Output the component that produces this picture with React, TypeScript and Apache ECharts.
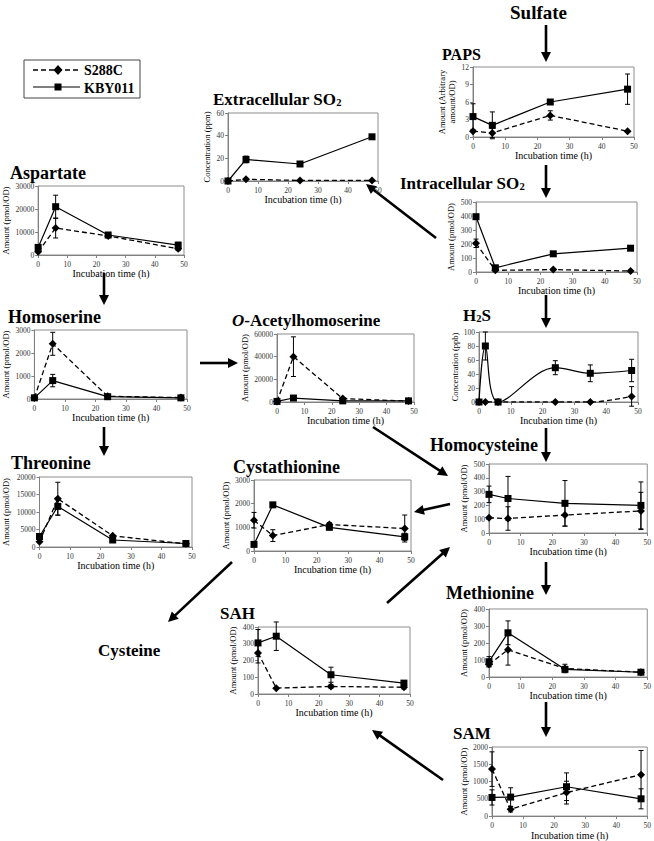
import React, { useEffect, useRef } from 'react';
import * as echarts from 'echarts';

// ---------- data ----------
const t4 = [0, 6, 24, 48];
const tH2S = [0, 2, 6, 24, 35, 48];

const papsK = [3.5, 2.0, 6.0, 8.2];
const papsKErr = [2.2, 2.3, 0, 2.6];
const papsS = [1.0, 0.7, 3.7, 1.0];
const papsSErr = [0, 0.8, 0.8, 0];

const exSO2K = [0, 19, 15, 39];
const exSO2KErr = [0, 3, 2, 1];
const exSO2S = [0, 1.5, 0.5, 0.5];
const exSO2SErr = [0, 0, 0, 0];

const aspK = [3300, 21000, 8700, 4300];
const aspKErr = [500, 5000, 800, 1200];
const aspS = [1400, 11700, 8300, 2700];
const aspSErr = [300, 4300, 800, 800];

const inSO2K = [395, 30, 130, 170];
const inSO2KErr = [0, 0, 12, 8];
const inSO2S = [205, 12, 17, 7];
const inSO2SErr = [30, 5, 5, 3];

const h2sK = [0, 80, 0, 49, 41, 45];
const h2sKErr = [0, 20, 0, 10, 12, 16];
const h2sS = [0, 0, 0, 0, 0, 8];
const h2sSErr = [0, 0, 0, 0, 0, 14];

const hserK = [50, 800, 100, 50];
const hserKErr = [0, 270, 0, 0];
const hserS = [50, 2400, 120, 60];
const hserSErr = [0, 500, 0, 0];

const oahK = [500, 3500, 1000, 1000];
const oahKErr = [0, 0, 0, 0];
const oahS = [500, 40000, 3000, 800];
const oahSErr = [0, 17500, 0, 0];

const hcysK = [280, 250, 215, 200];
const hcysKErr = [60, 160, 165, 170];
const hcysS = [110, 105, 130, 160];
const hcysSErr = [0, 85, 80, 135];

const thrK = [3000, 11600, 2000, 1000];
const thrKErr = [0, 2500, 0, 0];
const thrS = [1500, 13800, 3200, 900];
const thrSErr = [0, 4700, 0, 0];

const cystK = [280, 1950, 1000, 600];
const cystKErr = [100, 50, 50, 150];
const cystS = [1300, 650, 1120, 950];
const cystSErr = [330, 250, 80, 570];

const metK = [90, 260, 45, 28];
const metKErr = [30, 70, 10, 5];
const metS = [75, 160, 50, 28];
const metSErr = [15, 90, 25, 5];

const samK = [540, 550, 850, 500];
const samKErr = [220, 270, 400, 290];
const samS = [1360, 200, 680, 1200];
const samSErr = [500, 80, 330, 700];

const sahK = [305, 345, 115, 65];
const sahKErr = [80, 85, 45, 10];
const sahS = [245, 35, 45, 40];
const sahSErr = [60, 0, 10, 10];

const FONT = "'Liberation Serif', 'Times New Roman', serif";

type Panel = {
  box: [number, number, number, number];
  t: number[];
  k: number[]; kErr: number[];
  s: number[]; sErr: number[];
  yMax: number; yInt: number;
  yName: string; nameGap: number;
  smooth?: boolean;
};

const panels: Panel[] = [
  { box: [473, 67, 161, 70], t: t4, k: papsK, kErr: papsKErr, s: papsS, sErr: papsSErr, yMax: 12, yInt: 3, yName: 'Amount (Arbitrary\namount/OD)', nameGap: 13 },
  { box: [228, 113, 150, 68], t: t4, k: exSO2K, kErr: exSO2KErr, s: exSO2S, sErr: exSO2SErr, yMax: 60, yInt: 20, yName: 'Concentration (ppm)', nameGap: 13 },
  { box: [33, 186, 151, 69], t: t4, k: aspK, kErr: aspKErr, s: aspS, sErr: aspSErr, yMax: 30000, yInt: 10000, yName: 'Amount (pmol/OD)', nameGap: 21 },
  { box: [476, 202, 161, 70], t: t4, k: inSO2K, kErr: inSO2KErr, s: inSO2S, sErr: inSO2SErr, yMax: 500, yInt: 100, yName: 'Amount (pmol/OD)', nameGap: 20 },
  { box: [479, 332, 159, 70], t: tH2S, k: h2sK, kErr: h2sKErr, s: h2sS, sErr: h2sSErr, yMax: 100, yInt: 20, yName: 'Concentration (ppb)', nameGap: 17, smooth: true },
  { box: [32, 330, 155, 69], t: t4, k: hserK, kErr: hserKErr, s: hserS, sErr: hserSErr, yMax: 3000, yInt: 1000, yName: 'Amount (pmol/OD)', nameGap: 22 },
  { box: [277, 334, 137, 68], t: t4, k: oahK, kErr: oahKErr, s: oahS, sErr: oahSErr, yMax: 60000, yInt: 20000, yName: 'Amount (pmol/OD)', nameGap: 26 },
  { box: [489, 464, 159, 69], t: t4, k: hcysK, kErr: hcysKErr, s: hcysS, sErr: hcysSErr, yMax: 500, yInt: 100, yName: 'Amount (pmol/OD)', nameGap: 20 },
  { box: [39, 477, 153, 70], t: t4, k: thrK, kErr: thrKErr, s: thrS, sErr: thrSErr, yMax: 20000, yInt: 5000, yName: 'Amount (pmol/OD)', nameGap: 28 },
  { box: [254, 480, 157, 71], t: t4, k: cystK, kErr: cystKErr, s: cystS, sErr: cystSErr, yMax: 3000, yInt: 1000, yName: 'Amount (pmol/OD)', nameGap: 23 },
  { box: [489, 609, 159, 68], t: t4, k: metK, kErr: metKErr, s: metS, sErr: metSErr, yMax: 400, yInt: 100, yName: 'Amount (pmol/OD)', nameGap: 20 },
  { box: [492, 747, 158, 71], t: t4, k: samK, kErr: samKErr, s: samS, sErr: samSErr, yMax: 2000, yInt: 500, yName: 'Amount (pmol/OD)', nameGap: 20 },
  { box: [258, 627, 152, 67], t: t4, k: sahK, kErr: sahKErr, s: sahS, sErr: sahSErr, yMax: 400, yInt: 100, yName: 'Amount (pmol/OD)', nameGap: 20 },
];

const errRender = (params: any, api: any) => {
  const x = api.value(0);
  const lo = api.value(1);
  const hi = api.value(2);
  if (hi === lo) return { type: 'group', children: [] };
  const p1 = api.coord([x, hi]);
  const p2 = api.coord([x, lo]);
  const w = 2.5;
  const st = { stroke: '#000', lineWidth: 1 };
  return {
    type: 'group',
    children: [
      { type: 'line', shape: { x1: p1[0], y1: p1[1], x2: p2[0], y2: p2[1] }, style: st },
      { type: 'line', shape: { x1: p1[0] - w, y1: p1[1], x2: p1[0] + w, y2: p1[1] }, style: st },
      { type: 'line', shape: { x1: p2[0] - w, y1: p2[1], x2: p2[0] + w, y2: p2[1] }, style: st },
    ],
  };
};

function arrow(x1: number, y1: number, x2: number, y2: number) {
  const dx = x2 - x1, dy = y2 - y1;
  const L = Math.sqrt(dx * dx + dy * dy);
  const ux = dx / L, uy = dy / L;
  const hl = 10, hw = 5;
  const bx = x2 - ux * hl, by = y2 - uy * hl;
  const px = -uy, py = ux;
  return [
    { type: 'line', shape: { x1, y1, x2: bx + ux * 1, y2: by + uy * 1 }, style: { stroke: '#000', lineWidth: 2.6 } },
    { type: 'polygon', shape: { points: [[x2, y2], [bx + px * hw, by + py * hw], [bx - px * hw, by - py * hw]] }, style: { fill: '#000' } },
  ];
}

function title(x: number, y: number, text: string, size: number, rich?: any) {
  return {
    type: 'text', x, y,
    style: {
      text, fontFamily: FONT, fontWeight: 'bold', fontSize: size, fill: '#000',
      verticalAlign: 'middle', align: 'left', rich,
    },
  };
}

export default function App() {
  const ref = useRef<HTMLDivElement>(null);
  useEffect(() => {
    document.body.style.margin = '0';
    const chart = echarts.init(ref.current!, undefined, { renderer: 'svg' });
    const grid: any[] = [], xAxis: any[] = [], yAxis: any[] = [], series: any[] = [];
    panels.forEach((p, i) => {
      grid.push({ left: p.box[0], top: p.box[1], width: p.box[2], height: p.box[3], show: true, borderColor: '#8c8c8c', borderWidth: 1, backgroundColor: 'transparent' });
      xAxis.push({
        type: 'value', gridIndex: i, min: 0, max: 50, interval: 10,
        axisLine: { show: true, onZero: false, lineStyle: { color: '#808080', width: 1 } },
        axisTick: { show: true, length: 3, lineStyle: { color: '#808080' } },
        axisLabel: { fontSize: 7.5, fontFamily: FONT, color: '#333', margin: 5, formatter: (v: number) => String(v) },
        splitLine: { show: false },
        name: 'Incubation time (h)', nameLocation: 'middle', nameGap: 13,
        nameTextStyle: { fontSize: 10, fontFamily: FONT, color: '#000' },
      });
      yAxis.push({
        type: 'value', gridIndex: i, min: 0, max: p.yMax, interval: p.yInt,
        axisLine: { show: true, onZero: false, lineStyle: { color: '#808080', width: 1 } },
        axisTick: { show: true, length: 3, lineStyle: { color: '#808080' } },
        axisLabel: { fontSize: 7.5, fontFamily: FONT, color: '#333', margin: 4, formatter: (v: number) => String(v) },
        splitLine: { show: false },
        name: p.yName, nameLocation: 'middle', nameGap: p.nameGap,
        nameTextStyle: { fontSize: 8.5, fontFamily: FONT, color: '#000', lineHeight: 10.5 },
      });
      const mk = (vals: number[]) => p.t.map((t, j) => [t, vals[j]]);
      const mkErr = (vals: number[], errs: number[]) => p.t.map((t, j) => [t, vals[j] - errs[j], vals[j] + errs[j]]);
      series.push({
        type: 'custom', xAxisIndex: i, yAxisIndex: i, renderItem: errRender,
        data: mkErr(p.k, p.kErr), encode: { x: 0, y: [1, 2] }, clip: false, z: 1,
      });
      series.push({
        type: 'custom', xAxisIndex: i, yAxisIndex: i, renderItem: errRender,
        data: mkErr(p.s, p.sErr), encode: { x: 0, y: [1, 2] }, clip: false, z: 1,
      });
      series.push({
        name: 'S288C', type: 'line', xAxisIndex: i, yAxisIndex: i, data: mk(p.s),
        symbol: 'diamond', symbolSize: 8, smooth: p.smooth ? 0.35 : false,
        itemStyle: { color: '#000' },
        lineStyle: { color: '#000', width: 1.3, type: [5, 3] }, z: 3,
      });
      series.push({
        name: 'KBY011', type: 'line', xAxisIndex: i, yAxisIndex: i, data: mk(p.k),
        symbol: 'rect', symbolSize: 7, smooth: p.smooth ? 0.35 : false,
        itemStyle: { color: '#000' },
        lineStyle: { color: '#000', width: 1.2 }, z: 4,
      });
    });

    const sub = (base: number) => ({
      a: { fontFamily: FONT, fontWeight: 'bold', fontSize: base, fill: '#000' },
      b: { fontFamily: FONT, fontWeight: 'bold', fontSize: base * 0.62, fill: '#000', padding: [base * 0.45, 0, 0, 0] },
      i: { fontFamily: FONT, fontWeight: 'bold', fontStyle: 'italic', fontSize: base, fill: '#000' },
    });

    const graphic: any[] = [
      // legend
      { type: 'rect', shape: { x: 24, y: 60, width: 116, height: 38 }, style: { fill: '#fff', stroke: '#444', lineWidth: 1 } },
      { type: 'line', shape: { x1: 33, y1: 70, x2: 80, y2: 70 }, style: { stroke: '#000', lineWidth: 1.3, lineDash: [5, 3] } },
      { type: 'polygon', shape: { points: [[58, 65], [62.5, 70], [58, 75], [53.5, 70]] }, style: { fill: '#000' } },
      { type: 'line', shape: { x1: 33, y1: 87, x2: 80, y2: 87 }, style: { stroke: '#000', lineWidth: 1.2 } },
      { type: 'rect', shape: { x: 54.5, y: 83.5, width: 7, height: 7 }, style: { fill: '#000' } },
      title(84, 70, 'S288C', 14),
      title(84, 88, 'KBY011', 14),
      // titles
      title(510, 12, 'Sulfate', 19),
      title(442, 54, 'PAPS', 16),
      title(213, 99, '{a|Extracellular SO}{b|2}', 17, sub(17)),
      title(10, 173, 'Aspartate', 18),
      title(400, 183, '{a|Intracellular SO}{b|2}', 17, sub(17)),
      title(463, 315, '{a|H}{b|2}{a|S}', 17, sub(17)),
      title(8, 317, 'Homoserine', 18),
      title(232, 320, '{i|O}{a|-Acetylhomoserine}', 17, sub(17)),
      title(430, 445, 'Homocysteine', 18),
      title(11, 463, 'Threonine', 18),
      title(233, 467, 'Cystathionine', 18),
      title(98, 650, 'Cysteine', 17),
      title(220, 613, 'SAH', 17),
      title(446, 593, 'Methionine', 18),
      title(453, 733, 'SAM', 17),
      // arrows
      ...arrow(546, 25, 546, 62),
      ...arrow(546, 165, 546, 198),
      ...arrow(436, 238, 366, 184),
      ...arrow(546, 295, 546, 328),
      ...arrow(104, 273, 104, 305),
      ...arrow(200, 363, 238, 363),
      ...arrow(104, 427, 104, 456),
      ...arrow(373, 427, 448, 476),
      ...arrow(546, 428, 546, 462),
      ...arrow(450, 504, 414, 512),
      ...arrow(232, 562, 168, 622),
      ...arrow(387, 603, 450, 547),
      ...arrow(546, 562, 546, 595),
      ...arrow(546, 702, 546, 737),
      ...arrow(443, 780, 372, 730),
    ];

    chart.setOption({ animation: false, grid, xAxis, yAxis, series, graphic });
    return () => chart.dispose();
  }, []);
  return <div ref={ref} style={{ position: 'absolute', left: 0, top: 0, width: 654, height: 841, background: '#fff' }} />;
}
